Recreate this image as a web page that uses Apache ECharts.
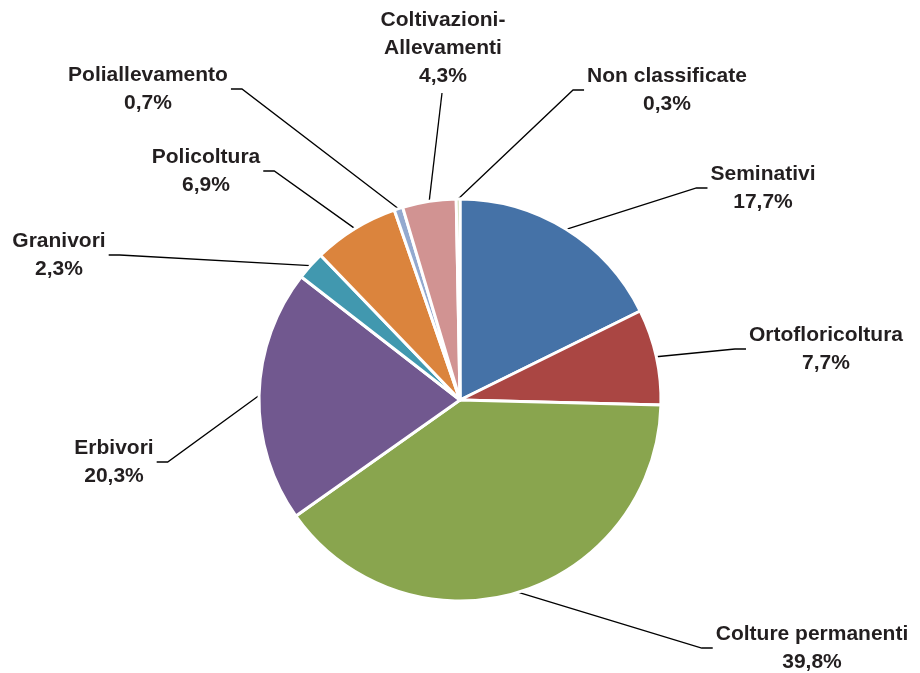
<!DOCTYPE html>
<html>
<head>
<meta charset="utf-8">
<script src="https://cdn.jsdelivr.net/npm/echarts@6/dist/echarts.min.js"></script>
<style>
html,body{margin:0;padding:0;background:#fff;}
#chart{width:920px;height:673px;}
</style>
</head>
<body>
<div id="chart"></div>
<script>
const categories = ['Seminativi','Ortofloricoltura','Colture permanenti','Erbivori','Granivori','Policoltura','Poliallevamento','Coltivazioni-\nAllevamenti','Non classificate'];
const values = [17.7, 7.7, 39.8, 20.3, 2.3, 6.9, 0.7, 4.3, 0.3];
const colors = ['#4572A7','#AA4643','#89A54E','#71588F','#4198AF','#DB843D','#93A9CF','#D19392','#B9CD96'];
// label placement: [centerX, centerY, side where the leader line attaches]
const labelPlacement = [
  [763, 188, 'l'],
  [826, 349, 'l'],
  [812, 648, 'l'],
  [114, 462, 'r'],
  [59, 255, 'r'],
  [206, 171, 'r'],
  [148, 89, 'r'],
  [443, 48, 'b'],
  [667, 90, 'l']
];

const chart = echarts.init(document.getElementById('chart'), null, {renderer:'canvas'});
chart.setOption({
  backgroundColor:'#fff',
  animation:false,
  series:[{
    type:'pie',
    center:[460,400],
    radius:201,
    startAngle:90,
    clockwise:true,
    data: categories.map((c,i)=>({name:c, value:values[i], itemStyle:{color:colors[i]}})),
    itemStyle:{borderColor:'#fff', borderWidth:3},
    label:{
      show:true,
      position:'outside',
      color:'#231f20',
      fontFamily:'Liberation Sans, Arial, sans-serif',
      fontWeight:'bold',
      fontSize:21,
      lineHeight:28,
      align:'center',
      formatter: p => p.name + '\n' + p.value.toFixed(1).replace('.',',') + '%'
    },
    labelLine:{show:true, length:10, length2:10, lineStyle:{color:'#000', width:1.3}},
    labelLayout: function(params){
      const lp = labelPlacement[params.dataIndex];
      const w = params.labelRect.width, h = params.labelRect.height;
      const start = params.labelLinePoints ? params.labelLinePoints[0] : null;
      let pts = null;
      if (start) {
        if (lp[2] === 'l') {
          const ex = lp[0] - w/2 - 3;
          pts = [start, [ex-11, lp[1]], [ex, lp[1]]];
        } else if (lp[2] === 'r') {
          const ex = lp[0] + w/2 + 3;
          pts = [start, [ex+11, lp[1]], [ex, lp[1]]];
        } else {
          pts = [start, [lp[0]-1, lp[1] + h/2 + 3]];
        }
      }
      const o = {x:lp[0], y:lp[1], align:'center', verticalAlign:'middle'};
      if (pts) o.labelLinePoints = pts;
      return o;
    }
  }]
});
</script>
</body>
</html>
